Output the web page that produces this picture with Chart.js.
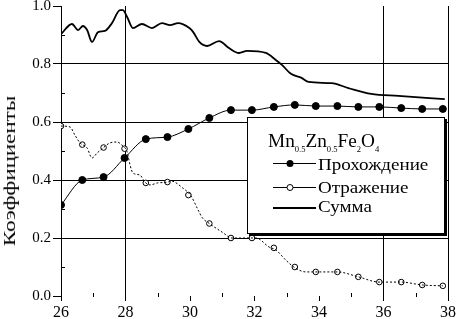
<!DOCTYPE html>
<html><head><meta charset="utf-8">
<script src="https://cdn.jsdelivr.net/npm/chart.js@4/dist/chart.umd.min.js"></script>
<style>
html,body{margin:0;padding:0;background:#fff;}
#wrap{position:relative;width:458px;height:319px;overflow:hidden;}
#c{position:absolute;left:0;top:0;}
.t{position:absolute;font-family:'Liberation Serif',serif;color:#000;white-space:nowrap;}
#ytitle{left:10px;top:171px;font-size:23px;line-height:23px;transform:translate(-50%,-50%) rotate(-90deg) scaleY(0.72);}
#lgbox{position:absolute;left:247px;top:117px;width:196px;height:115px;border:1px solid #000;box-shadow:2px 2px 0 #000;background:#fff;}
#lgtitle{left:268px;top:132px;font-size:18px;line-height:18px;transform:scaleX(1.07);transform-origin:0 50%;}
#lgtitle sub{font-size:8px;vertical-align:-5px;line-height:0;}
.row{font-size:17px;line-height:17px;left:318px;transform:scaleX(1.12);transform-origin:0 50%;}
</style></head><body>
<div id="wrap">
<canvas id="c" width="458" height="319"></canvas>
<div class="t" id="ytitle">Коэффициенты</div>
<div id="lgbox"></div>
<div class="t" id="lgtitle">Mn<sub>0.5</sub>Zn<sub>0.5</sub>Fe<sub>2</sub>O<sub>4</sub></div>
<svg style="position:absolute;left:0;top:0" width="458" height="319">
  <line x1="273" y1="163.5" x2="316" y2="163.5" stroke="#000" stroke-width="1"/>
  <circle cx="290" cy="163.5" r="3.5" fill="#000"/>
  <line x1="273" y1="187.5" x2="316" y2="187.5" stroke="#000" stroke-width="1"/>
  <circle cx="290" cy="187.5" r="3" fill="#fff" stroke="#000" stroke-width="1"/>
  <line x1="273" y1="208" x2="316" y2="208" stroke="#000" stroke-width="2"/>
</svg>
<div class="t row" style="top:156px">Прохождение</div>
<div class="t row" style="top:179px">Отражение</div>
<div class="t row" style="top:198px">Сумма</div>
</div>
<script>
// ---- data ----
const transX = [26, 26.66, 27.32, 27.97, 28.63, 29.3, 29.95, 30.6, 31.27, 31.92, 32.6, 33.25, 33.9, 34.57, 35.22, 35.87, 36.55, 37.2, 37.84];
const transY = [0.314, 0.400, 0.410, 0.476, 0.541, 0.548, 0.576, 0.614, 0.641, 0.641, 0.652, 0.659, 0.655, 0.655, 0.652, 0.652, 0.648, 0.645, 0.645];

const reflMarkX = [26, 26.66, 27.32, 27.97, 28.63, 29.3, 29.95, 30.6, 31.27, 31.92, 32.6, 33.25, 33.9, 34.57, 35.22, 35.87, 36.55, 37.2, 37.84];
const reflMarkY = [0.586, 0.522, 0.512, 0.508, 0.39, 0.393, 0.348, 0.25, 0.20, 0.20, 0.166, 0.10, 0.083, 0.083, 0.066, 0.048, 0.048, 0.038, 0.035];

const reflLineX = [26, 26.28, 26.43, 26.59, 26.81, 26.96, 27.12, 27.3, 27.52, 27.74, 27.89, 28.05, 28.14, 28.23, 28.45, 28.6, 28.76, 29.0, 29.32, 29.4, 29.78, 30.03, 30.25, 30.38, 30.6, 31.0, 31.3, 31.83, 32.05, 32.45, 32.66, 32.97, 33.22, 33.59, 33.9, 34.57, 35.22, 35.87, 36.55, 37.2, 37.84];
const reflLineY = [0.586, 0.583, 0.555, 0.528, 0.51, 0.476, 0.493, 0.51, 0.528, 0.531, 0.52, 0.497, 0.452, 0.424, 0.417, 0.393, 0.383, 0.39, 0.393, 0.397, 0.372, 0.345, 0.297, 0.27, 0.25, 0.22, 0.20, 0.20, 0.20, 0.169, 0.159, 0.124, 0.10, 0.083, 0.083, 0.083, 0.066, 0.048, 0.048, 0.038, 0.035];

const sumX = [26, 26.34, 26.53, 26.68, 26.81, 26.96, 27.15, 27.36, 27.58, 27.83, 27.92, 28.05, 28.23, 28.51, 28.82, 29.13, 29.38, 29.63, 29.98, 30.1, 30.29, 30.53, 30.9, 31.21, 31.52, 31.77, 32.35, 32.66, 32.85, 33.13, 33.46, 33.68, 34.39, 34.91, 35.62, 36.46, 37.9];
const sumY = [0.903, 0.938, 0.917, 0.931, 0.917, 0.876, 0.91, 0.914, 0.941, 0.986, 0.986, 0.962, 0.924, 0.938, 0.924, 0.941, 0.934, 0.941, 0.924, 0.91, 0.876, 0.862, 0.879, 0.855, 0.838, 0.845, 0.838, 0.814, 0.797, 0.766, 0.752, 0.738, 0.734, 0.717, 0.697, 0.69, 0.679];

// axis ticks
const xMin = 26, xMax = 38, yMin = 0, yMax = 1;
const xGridAt = [28, 36, 38];          // vertical lines drawn across the plot
const xMinorTicks = [27, 29, 31, 33, 35, 37];
const yMinorTicks = [0.1, 0.3, 0.5, 0.7, 0.9];

const FONT = "'Liberation Serif', serif";
const pts = (xs, ys) => xs.map((x, i) => ({x, y: ys[i]}));
const CLEAR = 'rgba(0,0,0,0)';

const minorTicks = {
  id: 'minorTicks',
  afterDraw(chart) {
    const {ctx, scales: {x, y}, chartArea: a} = chart;
    ctx.save();
    ctx.strokeStyle = '#000'; ctx.lineWidth = 1;
    ctx.beginPath();
    xMinorTicks.forEach(v => { const p = Math.round(x.getPixelForValue(v)) + 0.5; ctx.moveTo(p, a.bottom - 3); ctx.lineTo(p, a.bottom + 1); });
    yMinorTicks.forEach(v => { const p = Math.round(y.getPixelForValue(v)) + 0.5; ctx.moveTo(a.left, p); ctx.lineTo(a.left + 4, p); });
    ctx.stroke();
    ctx.restore();
  }
};

new Chart(document.getElementById('c'), {
  type: 'scatter',
  data: {
    datasets: [
      {label: 'Сумма', data: pts(sumX, sumY), showLine: true, borderColor: '#000', borderWidth: 1.8, pointRadius: 0, cubicInterpolationMode: 'monotone'},
      {label: 'Отражение', data: pts(reflLineX, reflLineY), showLine: true, borderColor: '#000', borderWidth: 1, borderDash: [2, 2], pointRadius: 0, cubicInterpolationMode: 'monotone'},
      {label: 'Отражение (точки)', data: pts(reflMarkX, reflMarkY), showLine: false, pointRadius: 2.8, pointBackgroundColor: '#fff', pointBorderColor: '#000', pointBorderWidth: 1},
      {label: 'Прохождение', data: pts(transX, transY), showLine: true, borderColor: '#000', borderWidth: 1, pointRadius: 3.5, pointBackgroundColor: '#000', pointBorderColor: '#000', cubicInterpolationMode: 'monotone'}
    ]
  },
  options: {
    responsive: false, animation: false, devicePixelRatio: 1,
    layout: {padding: {top: 6, right: 8, left: 0, bottom: 0}},
    plugins: {legend: {display: false}, tooltip: {enabled: false}},
    scales: {
      x: {
        type: 'linear', min: xMin, max: xMax,
        ticks: {stepSize: 1, autoSkip: false, maxRotation: 0, color: '#000', padding: 2,
          font: {family: FONT, size: 16},
          callback: v => (v % 2 === 0 ? String(v) : '')},
        grid: {
          color: c => (c.tick && xGridAt.includes(c.tick.value)) ? '#000' : CLEAR,
          tickColor: c => (c.tick && c.tick.value % 2 === 0) ? '#000' : CLEAR,
          lineWidth: 1, tickLength: 5, drawTicks: true
        },
        border: {display: false},
        afterFit: s => { s.height = 23; }
      },
      y: {
        min: yMin, max: yMax,
        ticks: {stepSize: 0.1, color: '#000', padding: 2, font: {family: FONT, size: 15},
          callback: v => { const k = Math.round(v * 10); return k % 2 === 0 ? (k / 10).toFixed(1) : ''; }},
        grid: {
          color: c => { const k = Math.round(c.tick.value * 10); return (k % 2 === 0 && k > 0 && k < 10) ? '#000' : CLEAR; },
          tickColor: c => { const k = Math.round(c.tick.value * 10); return k % 2 === 0 ? '#000' : CLEAR; },
          lineWidth: 1, tickLength: 8
        },
        border: {display: true, color: '#000', width: 1},
        afterFit: s => { s.width = 61; s.paddingTop = 6; s.paddingBottom = 0; }
      }
    }
  },
  plugins: [minorTicks]
});
</script>
</body></html>
